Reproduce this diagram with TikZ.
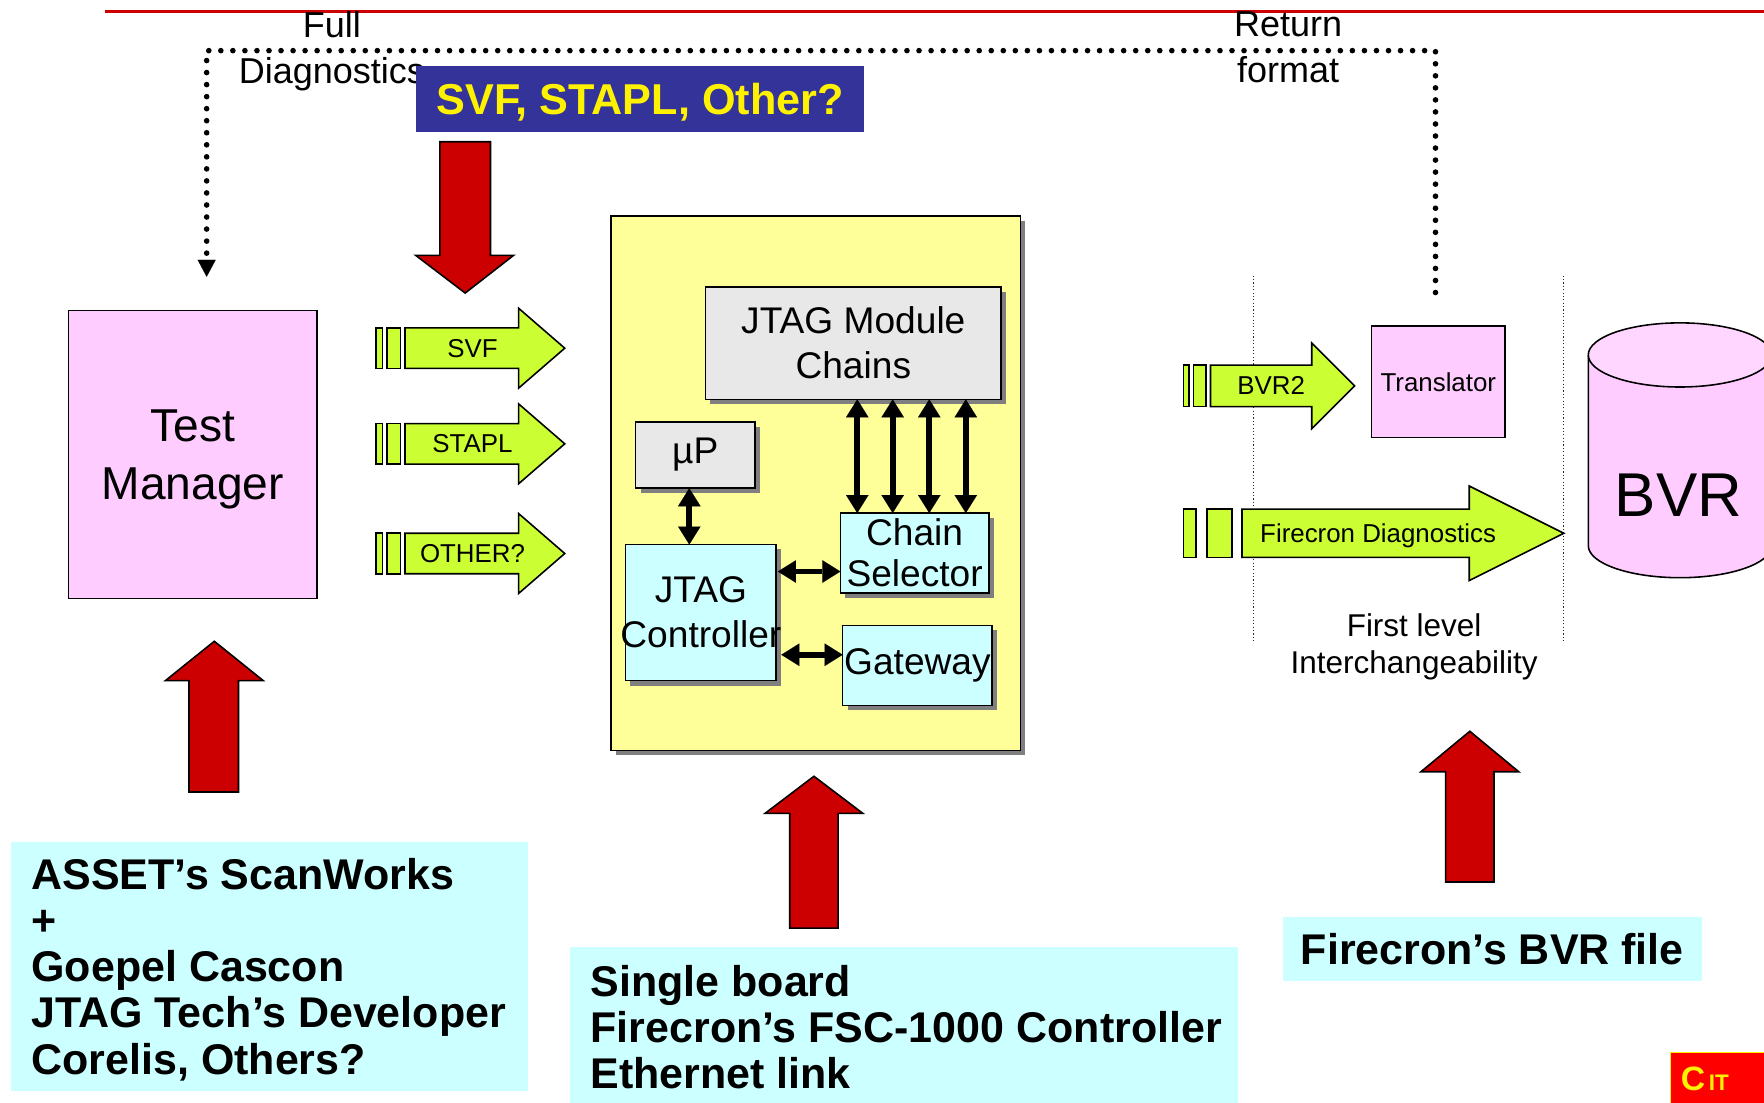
\documentclass[tikz,border=0pt]{standalone}
\usepackage{fontspec}
\setmainfont{Liberation Sans}
\usetikzlibrary{arrows.meta,shadows,calc}
\definecolor{pinkbox}{HTML}{FFCCFF}
\definecolor{pinktop}{HTML}{FFD6FF}
\definecolor{cyanbox}{HTML}{CCFFFF}
\definecolor{boardy}{HTML}{FFFF99}
\definecolor{grayb}{HTML}{E8E8E8}
\definecolor{lime}{HTML}{CCFF33}
\definecolor{darkred}{HTML}{CC0000}
\definecolor{navyb}{HTML}{333399}
\definecolor{shadowg}{HTML}{7F7F7F}
\definecolor{logored}{HTML}{FF0000}
\newcommand\fsz[2]{\fontsize{#1}{#2}\selectfont}
\begin{document}
\begin{tikzpicture}[x=0.5pt,y=-0.5pt,
  every node/.style={inner sep=0pt,outer sep=0pt},
  box/.style={draw=black,line width=0.7pt,align=center},
  shad/.style={drop shadow={shadow xshift=2.2pt,shadow yshift=-2.2pt,fill=shadowg,opacity=1}},
  btext/.style={align=center,font={\fsz{16.5}{19.5}}},
  gtext/.style={font={\fsz{11.5}{14}},text depth=0pt},
  garr/.style={fill=lime,draw=black,line width=0.7pt},
  rarr/.style={fill=darkred,draw=black,line width=0.7pt},
  bigb/.style={font={\bfseries\fsz{19.1}{20.5}},align=left},
  lbl/.style={align=center,font={\fsz{16}{20.5}}},
  dotl/.style={line width=2.5pt,dash pattern=on 0pt off 5.35pt,line cap=round},
  thindot/.style={line width=0.5pt,dash pattern=on 0.5pt off 1pt,draw=black!85},
  dbl/.style={line width=2.5pt,arrows={Triangle[width=10pt,length=8pt,line width=0.01pt]-Triangle[width=10pt,length=8pt,line width=0.01pt]}}
]
\useasboundingbox (0,0) rectangle (1568,980.4);
\begin{scope}
\clip (0,0) rectangle (1568,980.4);

% top red rule
\draw[darkred,line width=1.2pt] (93,10) -- (1568,10);

% main boxes (named first, used by connectors)
\node[box,fill=pinkbox,minimum width=110.5pt,minimum height=128pt,font={\fsz{20.5}{25.5}},text depth=0pt] (tm) at (171.5,404) {Test\\Manager};
\node[box,fill=pinkbox,minimum width=59.5pt,minimum height=49.5pt,font={\fsz{11.5}{14}}] (trans) at (1278.5,339.5) {Translator};

% dotted feedback path
\coordinate (tr) at ($(trans.north)+(-2.5,-30)$);
\coordinate (tl) at ($(tm.north)+(12.2,-30)$);
\draw[dotl,-{Triangle[width=8pt,length=7.5pt,line width=0.01pt]}] (tr) -- (tr |- 0,45) -- (tl |- 0,45) -- (tl);

\node[lbl] (fulld) at (295,45.6) {Full\\Diagnostics};
\node[lbl] (retf) at (1145,42) {Return\\format};

% SVF header box
\node[fill=navyb,minimum width=199pt,minimum height=29pt,text=yellow,font={\bfseries\fsz{19.2}{22}},text depth=0pt] (hdr) at (569,88) {SVF, STAPL, Other?};

% red block arrows
\draw[rarr] (391,126) -- (436,126) -- (436,227) -- (456.5,227) -- (413.5,260.5) -- (369.5,227) -- (391,227) -- cycle;
\draw[rarr] (168,704) -- (212,704) -- (212,605) -- (234,605) -- (190.5,570) -- (147,605) -- (168,605) -- cycle;
\draw[rarr] (702,825) -- (745,825) -- (745,723) -- (767,723) -- (723.5,690) -- (680,723) -- (702,723) -- cycle;
\draw[rarr] (1285,784) -- (1328,784) -- (1328,686) -- (1350,686) -- (1306.5,650) -- (1263,686) -- (1285,686) -- cycle;

% green format arrows
\foreach \cy/\lab/\nm in {309.5/SVF/gsvf,394.5/STAPL/gstapl,492/OTHER?/goth}{
  \draw[garr] (334,\cy-18) rectangle (340,\cy+18);
  \draw[garr] (344,\cy-18) rectangle (356,\cy+18);
  \draw[garr] (360,\cy-18) -- (461,\cy-18) -- (461,\cy-35.5) -- (502,\cy) -- (461,\cy+35.5) -- (461,\cy+18) -- (360,\cy+18) -- cycle;
  \node[gtext] (\nm) at (420,\cy) {\lab};
}

% controller board
\node[box,fill=boardy,shad,minimum width=182pt,minimum height=237.5pt] (board) at (725,429.5) {};
\node[box,fill=grayb,shad,minimum width=131.5pt,minimum height=50pt,font={\fsz{16.5}{20}}] (jmc) at (758.5,305) {JTAG Module\\Chains};
\node[box,fill=grayb,shad,minimum width=53pt,minimum height=29.5pt,font={\fsz{16.5}{19.5}}] (up) at (618,404.5) {µP};
\node[box,fill=cyanbox,shad,minimum width=67pt,minimum height=60.5pt] (jc) at (623,544.5) {};
\node[box,fill=cyanbox,shad,minimum width=66pt,minimum height=35.5pt,font={\fsz{16.5}{18}}] (cs) at (813,491.5) {Chain\\Selector};
\node[box,fill=cyanbox,shad,minimum width=66.5pt,minimum height=35.5pt,font={\fsz{16.5}{19.5}}] (gw) at (815.5,591.5) {Gateway};

\foreach \ax in {762,793.5,826,858.5}{
  \draw[dbl] (jmc.south -| \ax,0) -- (cs.north -| \ax,0);
}
\draw[dbl] (up.south -| 612.7,0) -- (jc.north -| 612.7,0);
\coordinate (csa) at ($(cs.west)+(0,16.5)$);
\draw[dbl] ($(jc.east |- csa)+(1.5,0)$) -- (csa);
\coordinate (gwa) at ($(gw.west)+(0,-9.5)$);
\draw[dbl] ($(jc.east |- gwa)+(4.5,0)$) -- (gwa);
\node[btext,font={\fsz{16.5}{20}}] (jcl) at (jc.center) {JTAG\\Controller};

% right side
\draw[thindot] (1114,245) -- (1114,572);
\draw[thindot] (1390,245) -- (1390,572);

\draw[garr] (1052,324.5) rectangle (1057,361.5);
\draw[garr] (1061,324.5) rectangle (1072,361.5);
\draw[garr] (1076,324.5) -- (1166,324.5) -- (1166,305) -- (1204,343) -- (1166,381) -- (1166,361.5) -- (1076,361.5) -- cycle;
\node[gtext] (bvr2) at (1130,343) {BVR2};

\draw[garr] (1052,452.5) rectangle (1063,495.5);
\draw[garr] (1073,452.5) rectangle (1095,495.5);
\draw[garr] (1104,452.5) -- (1306,452.5) -- (1306,432) -- (1390,474) -- (1306,516) -- (1306,495.5) -- (1104,495.5) -- cycle;
\node[gtext] (fdiag) at (1225,474) {Firecron Diagnostics};

% BVR cylinder
\fill[pinkbox] (1411.8,315.5) -- (1411.8,485) arc[start angle=180,end angle=360,x radius=40.75pt,y radius=14.25pt] -- (1574.8,315.5) -- cycle;
\draw[line width=0.7pt] (1411.8,315.5) -- (1411.8,485) arc[start angle=180,end angle=360,x radius=40.75pt,y radius=14.25pt] -- (1574.8,315.5);
\draw[line width=0.7pt,fill=pinktop] (1493.3,315.5) ellipse[x radius=40.75pt,y radius=14.25pt];
\node[font={\fsz{27.5}{33}}] (bvr) at (1492,440) {BVR};

\node[align=center,font={\fsz{14}{16.5}}] (fli) at (1257,575) {First level\\Interchangeability};

% bottom description boxes
\node[fill=cyanbox,minimum width=229.5pt,minimum height=111pt] (lbox) at (239.5,859) {};
\node[bigb,anchor=north west] (ltext) at (28,763) {ASSET’s ScanWorks\\+\\Goepel Cascon\\JTAG Tech’s Developer\\Corelis, Others?};
\node[fill=cyanbox,minimum width=296.5pt,minimum height=74pt] (mbox) at (803.5,916) {};
\node[bigb,anchor=north west] (mtext) at (525,858) {Single board\\Firecron’s FSC-1000 Controller\\Ethernet link};
\node[fill=cyanbox,minimum width=186.5pt,minimum height=28.5pt,font={\bfseries\fsz{19.1}{22}}] (rbox) at (1326.5,843.5) {Firecron’s BVR file};

% corner logo (cut off by the page edge)
\draw[fill=logored,draw=yellow,line width=0.4pt] (1484.4,935.7) rectangle (1600,1000);
\node[anchor=north west,text=yellow,font={\bfseries\fsz{15}{18}}] (logo) at (1494,948) {C{\fsz{10}{12}\,IT}};
\end{scope}
\end{tikzpicture}
\end{document}
